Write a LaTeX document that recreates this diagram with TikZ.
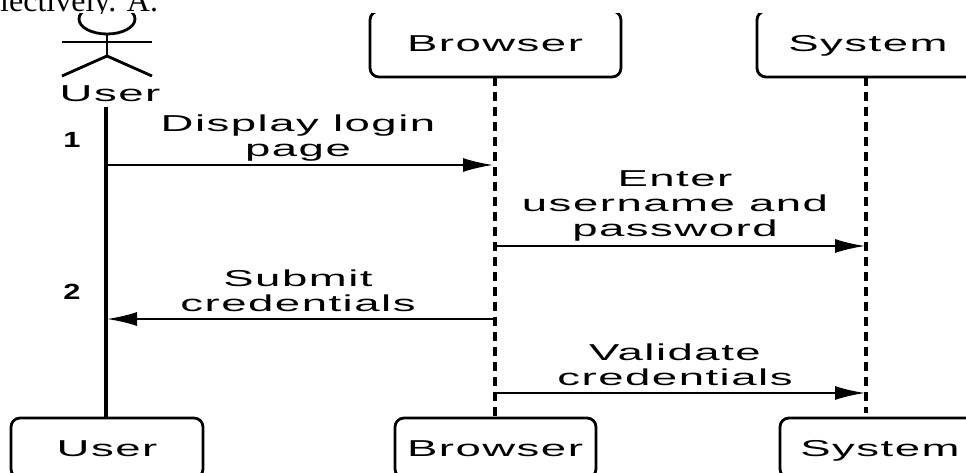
\documentclass[tikz,border=0pt]{standalone}
\usepackage{fontspec}
\setmainfont{Liberation Serif}
\newfontfamily\diagfont[FakeStretch=1.98,LetterSpace=6.5]{Liberation Sans}
\newfontfamily\numfont[FakeStretch=1.4]{Liberation Sans}
\usetikzlibrary{arrows.meta}
\tikzset{
  box/.style = {draw, line width=2.8pt, rounded corners=9pt, inner sep=0pt},
  lbl/.style = {font=\diagfont\fontsize{23}{25}\selectfont, align=center, inner sep=0pt},
  word/.style = {lbl, anchor=base},
  num/.style = {font=\numfont\bfseries\fontsize{22}{24}\selectfont, inner sep=0pt},
  lifeline/.style = {line width=3.5pt},
  dashline/.style = {line width=4pt, dash pattern=on 9pt off 6pt},
  msg/.style = {line width=2pt, -{Latex[length=30pt,width=14pt]}},
  limb/.style = {line width=2.8pt}
}
\begin{document}
\begin{tikzpicture}[x=1pt,y=-1pt]
  \useasboundingbox (0,0) rectangle (966,473);
  \clip (0,0) rectangle (966,473);
  \begin{scope}
    \clip (0,0) rectangle (966,14);
    \node[anchor=base west, inner sep=0pt, font=\fontsize{32}{36}\selectfont] (head) at (0,12) {lectively. A.};
  \end{scope}
  \begin{scope}
    \clip (0,14) rectangle (966,473);
    \node[box, minimum width=251pt, minimum height=66pt] (b1) at (495.5,44) {};
    \node[box, minimum width=218pt, minimum height=66pt] (s1) at (866,44) {};
    \node[box, minimum width=192pt, minimum height=60pt] (u2) at (107,448) {};
    \node[box, minimum width=201pt, minimum height=60pt] (b2) at (495.5,448) {};
    \node[box, minimum width=220pt, minimum height=60pt] (s2) at (890,448) {};
    \draw[limb] (107,19) ellipse (28 and 15);
  \end{scope}
  \node[word] (b1t) at (495,52) {Browser};
  \node[word] (s1t) at (868,52) {System};
  \node[word] (u2t) at (107,456) {User};
  \node[word] (b2t) at (495,456) {Browser};
  \node[word] (s2t) at (880,456) {System};
  % actor
  \coordinate (neck) at (107,33);
  \coordinate (hip) at (107,56);
  \coordinate (handl) at (62,42);
  \coordinate (handr) at (152,42);
  \coordinate (footl) at (62,76);
  \coordinate (footr) at (152,76);
  \draw[limb] (neck)--(hip);
  \draw[limb] (handl)--(handr);
  \draw[limb] (footl)--(hip)--(footr);
  \node[word] (u1) at (110,102) {User};
  % lifelines
  \coordinate (utop) at (106,107);
  \coordinate (ubot) at (106,418);
  \coordinate (btop) at (495,77);
  \coordinate (bbot) at (495,418);
  \coordinate (stop) at (866,77);
  \coordinate (sbot) at (866,413);
  \draw[lifeline] (utop)--(ubot);
  \draw[dashline] (btop)--(bbot);
  \draw[dashline] (stop)--(sbot);
  % messages
  \coordinate (m1a) at (106,165);
  \coordinate (m1b) at (493,165);
  \coordinate (m2a) at (495,246);
  \coordinate (m2b) at (865,246);
  \coordinate (m3a) at (495,319);
  \coordinate (m3b) at (107,319);
  \coordinate (m4a) at (495,393);
  \coordinate (m4b) at (865,393);
  \draw[msg] (m1a)--(m1b);
  \draw[msg] (m2a)--(m2b);
  \draw[msg] (m3a)--(m3b);
  \draw[msg] (m4a)--(m4b);
  \node[lbl] (t1) at (298,138) {Display login\\page};
  \node[lbl] (t2) at (675,206) {Enter\\username and\\password};
  \node[lbl] (t3) at (298,291) {Submit\\credentials};
  \node[lbl] (t4) at (675,365) {Validate\\credentials};
  \node[num] (n1) at (72,140) {1};
  \node[num] (n2) at (72,292) {2};
\end{tikzpicture}
\end{document}
